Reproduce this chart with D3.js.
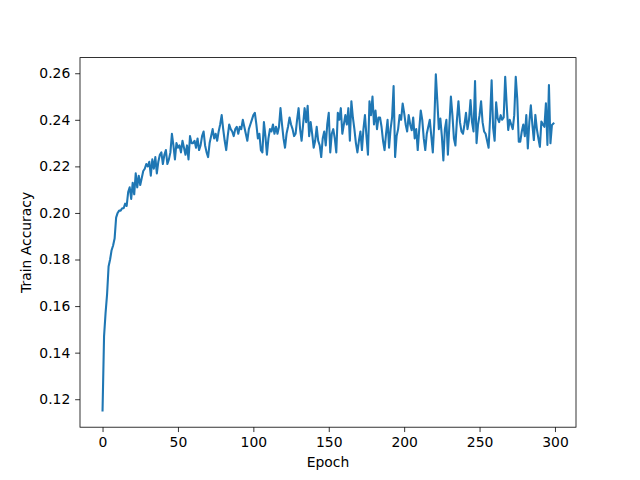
<!DOCTYPE html>
<html>
<head>
<meta charset="utf-8">
<script src="https://cdn.jsdelivr.net/npm/d3@7"></script>
<style>
  body { margin: 0; background: #fff; }
  svg text { font-family: "DejaVu Sans", sans-serif; }
</style>
</head>
<body>
<svg id="chart" width="640" height="480"></svg>
<script>
'use strict';

// Train accuracy per epoch
const accuracy = [
    0.1152, 0.147, 0.157, 0.165, 0.177, 0.180, 0.184, 0.186, 0.189, 0.198,
    0.200, 0.201, 0.201, 0.202, 0.202, 0.204, 0.203, 0.209, 0.211, 0.206,
    0.213, 0.208, 0.217, 0.211, 0.216, 0.212, 0.215, 0.218, 0.219, 0.221,
    0.220, 0.222, 0.216, 0.223, 0.219, 0.224, 0.217, 0.222, 0.225, 0.226,
    0.221, 0.225, 0.227, 0.221, 0.223, 0.226, 0.234, 0.229, 0.223, 0.230,
    0.228, 0.229, 0.226, 0.231, 0.228, 0.225, 0.229, 0.223, 0.233, 0.230,
    0.230, 0.231, 0.228, 0.232, 0.227, 0.229, 0.233, 0.235, 0.229, 0.226,
    0.224, 0.230, 0.233, 0.236, 0.232, 0.234, 0.231, 0.235, 0.238, 0.242,
    0.236, 0.231, 0.227, 0.233, 0.238, 0.236, 0.235, 0.233, 0.236, 0.237,
    0.234, 0.237, 0.236, 0.240, 0.237, 0.234, 0.231, 0.236, 0.238, 0.240,
    0.242, 0.243, 0.238, 0.232, 0.234, 0.227, 0.226, 0.239, 0.233, 0.225,
    0.232, 0.236, 0.235, 0.238, 0.234, 0.237, 0.234, 0.237, 0.245, 0.238,
    0.232, 0.228, 0.234, 0.237, 0.241, 0.238, 0.236, 0.233, 0.234, 0.240,
    0.245, 0.236, 0.231, 0.238, 0.245, 0.239, 0.246, 0.233, 0.239, 0.234,
    0.228, 0.231, 0.237, 0.231, 0.229, 0.224, 0.232, 0.235, 0.229, 0.238,
    0.243, 0.226, 0.234, 0.236, 0.232, 0.226, 0.243, 0.240, 0.245, 0.234,
    0.238, 0.242, 0.238, 0.245, 0.231, 0.248, 0.241, 0.236, 0.230, 0.226,
    0.231, 0.235, 0.227, 0.236, 0.242, 0.233, 0.225, 0.248, 0.242, 0.250,
    0.238, 0.244, 0.236, 0.241, 0.241, 0.237, 0.231, 0.227, 0.234, 0.240,
    0.228, 0.236, 0.241, 0.2545, 0.224, 0.233, 0.236, 0.242, 0.240, 0.247,
    0.243, 0.238, 0.235, 0.242, 0.238, 0.2355, 0.241, 0.232, 0.236, 0.227,
    0.236, 0.244, 0.240, 0.232, 0.227, 0.234, 0.237, 0.240, 0.233, 0.226,
    0.239, 0.2595, 0.248, 0.236, 0.2405, 0.233, 0.2225, 0.236, 0.240, 0.225,
    0.238, 0.250, 0.242, 0.232, 0.229, 0.240, 0.248, 0.239, 0.235, 0.234,
    0.238, 0.243, 0.236, 0.240, 0.2485, 0.239, 0.235, 0.2567, 0.230, 0.238,
    0.242, 0.248, 0.239, 0.235, 0.234, 0.231, 0.228, 0.241, 0.257, 0.2365,
    0.231, 0.2475, 0.2406, 0.239, 0.242, 0.240, 0.241, 0.2585, 0.2463, 0.2356,
    0.240, 0.238, 0.236, 0.242, 0.2585, 0.249, 0.2306, 0.2306, 0.235, 0.238,
    0.233, 0.242, 0.2277, 0.239, 0.2462, 0.238, 0.2313, 0.2421, 0.236, 0.232,
    0.2284, 0.2393, 0.238, 0.237, 0.2471, 0.2292, 0.2549, 0.2299, 0.2378, 0.2384
];
const epochs = accuracy.map((_, i) => i);

const xTicks = [0, 50, 100, 150, 200, 250, 300];
const yTicks = [0.12, 0.14, 0.16, 0.18, 0.20, 0.22, 0.24, 0.26];

const vis = d3.select('#chart');
const margin = {left: 80, right: 64, top: 57.6, bottom: 52.8};
const width = +vis.attr('width');
const height = +vis.attr('height');

// matplotlib style 5% padding on both axes
const xPad = (d3.max(epochs) - d3.min(epochs)) * 0.05;
const [yMin, yMax] = d3.extent(accuracy);
const yPad = (yMax - yMin) * 0.05;

const x = d3.scaleLinear()
    .domain([d3.min(epochs) - xPad, d3.max(epochs) + xPad])
    .range([margin.left, width - margin.right]);
const y = d3.scaleLinear()
    .domain([yMin - yPad, yMax + yPad])
    .range([height - margin.bottom, margin.top]);

const tickLen = 3.5 * 100 / 72;

vis.append('path')
    .datum(accuracy)
    .attr('fill', 'none')
    .attr('stroke', '#1f77b4')
    .attr('stroke-width', 1.5 * 100 / 72)
    .attr('stroke-linejoin', 'round')
    .attr('stroke-linecap', 'square')
    .attr('d', d3.line().x((d, i) => x(epochs[i])).y(d => y(d)));

const xAxis = vis.append('g')
    .attr('transform', `translate(0,${height - margin.bottom})`)
    .call(d3.axisBottom(x).tickValues(xTicks).tickFormat(d3.format('d'))
        .tickSize(tickLen).tickPadding(tickLen).tickSizeOuter(0));

const yAxis = vis.append('g')
    .attr('transform', `translate(${margin.left},0)`)
    .call(d3.axisLeft(y).tickValues(yTicks).tickFormat(d3.format('.2f'))
        .tickSize(tickLen).tickPadding(tickLen).tickSizeOuter(0));

[xAxis, yAxis].forEach(g => {
    g.select('.domain').remove();
    g.selectAll('.tick line').attr('stroke', '#000').attr('stroke-width', 0.8);
    g.selectAll('.tick text').attr('fill', '#000').style('font-size', '13.9px');
});

// axes frame
vis.append('rect')
    .attr('x', margin.left)
    .attr('y', margin.top)
    .attr('width', width - margin.left - margin.right)
    .attr('height', height - margin.top - margin.bottom)
    .attr('fill', 'none')
    .attr('stroke', '#000')
    .attr('stroke-width', 0.8);

vis.append('text')
    .attr('x', (margin.left + width - margin.right) / 2)
    .attr('y', 467)
    .attr('text-anchor', 'middle')
    .style('font-size', '13.9px')
    .text('Epoch');

vis.append('text')
    .attr('transform', `translate(31,${(margin.top + height - margin.bottom) / 2}) rotate(-90)`)
    .attr('text-anchor', 'middle')
    .style('font-size', '13.9px')
    .text('Train Accuracy');
</script>
</body>
</html>
